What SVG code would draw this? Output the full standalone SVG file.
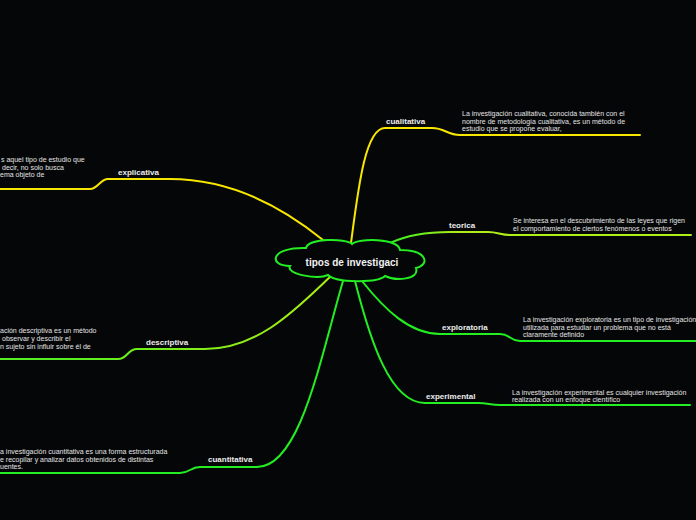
<svg xmlns="http://www.w3.org/2000/svg" width="696" height="520" viewBox="0 0 696 520">
<defs>
<style>
.bg{fill:#050608}
.ln{fill:none;stroke-width:2;stroke-linecap:round}
.y{stroke:#f7e600}
.g{stroke:#22ee22}
.lbl{font-family:"Liberation Sans",Arial,sans-serif;font-size:8px;font-weight:bold;fill:#ececec}
.desc{font-family:"Liberation Sans",Arial,sans-serif;font-size:7px;fill:#e4e4e4}
.cloud{fill:#050608;stroke:#22ee22;stroke-width:2}
.title{font-family:"Liberation Sans",Arial,sans-serif;font-size:10px;font-weight:bold;fill:#f2f2f2}
</style>
<linearGradient id="gTeo" gradientUnits="userSpaceOnUse" x1="390" y1="0" x2="460" y2="0">
<stop offset="0" stop-color="#33ee22"/>
<stop offset="1" stop-color="#b0ee18"/>
</linearGradient>
<linearGradient id="gDes" gradientUnits="userSpaceOnUse" x1="330" y1="0" x2="60" y2="0">
<stop offset="0" stop-color="#aaee10"/>
<stop offset="1" stop-color="#55ee22"/>
</linearGradient>
</defs>
<rect class="bg" x="0" y="0" width="696" height="520"/>

<g id="connectors">
<path class="ln y" d="M351,243 C358,190 365,128 385,128 L432,128 C445,128 447,135 460,135 L640,135"/>
<path class="ln" stroke="url(#gTeo)" d="M390,243 C405,236 425,232 450,232 L488,232 C498,232 500,235 510,235 L691,235"/>
<path class="ln y" d="M323,240 C280,205 230,179 170,179 L108,179 C100,179 98,189 90,189 L0,189"/>
<path class="ln" stroke="url(#gDes)" d="M330,277 C300,305 260,349 205,349 L137,349 C127,349 128,359 118,359 L0,359"/>
<path class="ln g" d="M343,281 C320,360 300,467 257,467 L200,467 C190,467 190,473 180,473 L0,473"/>
<path class="ln g" d="M362,281 C385,310 410,334 440,334 L500,334 C510,334 510,341 520,341 L696,341"/>
<path class="ln g" d="M355,281 C370,340 390,403 425,403 L478,403 C488,403 490,405 500,405 L690,405"/>
</g>

<g id="root">
<path class="cloud" d="M306,248 C270,247 268,266 290,266 C285,274 318,280 328,275 C336,283 378,283 385,276 C395,281 420,280 416,268 C430,265 428,250 400,250 C398,238 358,238 352,244 C346,238 308,238 306,248 Z"/>
<text class="title" x="352" y="265.5" text-anchor="middle">tipos de investigaci</text>
</g>

<g id="cualitativa">
<text class="lbl" x="386" y="124">cualitativa</text>
<text class="desc" x="462" y="116">La investigación cualitativa, conocida también con el</text>
<text class="desc" x="462" y="123.5">nombre de metodología cualitativa, es un método de</text>
<text class="desc" x="462" y="131">estudio que se propone evaluar,</text>
</g>

<g id="teorica">
<text class="lbl" x="449" y="228">teorica</text>
<text class="desc" x="513" y="223">Se interesa en el descubrimiento de las leyes que rigen</text>
<text class="desc" x="513" y="231">el comportamiento de ciertos fenómenos o eventos</text>
</g>

<g id="explicativa">
<text class="lbl" x="118" y="175">explicativa</text>
<text class="desc" x="1" y="162">s aquel tipo de estudio que</text>
<text class="desc" x="2" y="169.5">decir, no solo busca</text>
<text class="desc" x="0" y="177">ema objeto de</text>
</g>

<g id="descriptiva">
<text class="lbl" x="146" y="345">descriptiva</text>
<text class="desc" x="0" y="332.5">ación descriptiva es un método</text>
<text class="desc" x="2" y="340.5">observar y describir el</text>
<text class="desc" x="0" y="348.5">n sujeto sin influir sobre él de</text>
</g>

<g id="cuantitativa">
<text class="lbl" x="208" y="462">cuantitativa</text>
<text class="desc" x="0" y="453.5">a investigación cuantitativa es una forma estructurada</text>
<text class="desc" x="0" y="461.5">e recopilar y analizar datos obtenidos de distintas</text>
<text class="desc" x="0" y="469">uentes.</text>
</g>

<g id="exploratoria">
<text class="lbl" x="442" y="330">exploratoria</text>
<text class="desc" x="523" y="322">La investigación exploratoria es un tipo de investigación</text>
<text class="desc" x="523" y="329.5">utilizada para estudiar un problema que no está</text>
<text class="desc" x="523" y="337">claramente definido</text>
</g>

<g id="experimental">
<text class="lbl" x="426" y="399">experimental</text>
<text class="desc" x="512" y="394.5">La investigación experimental es cualquier investigación</text>
<text class="desc" x="512" y="402">realizada con un enfoque científico</text>
</g>
</svg>
